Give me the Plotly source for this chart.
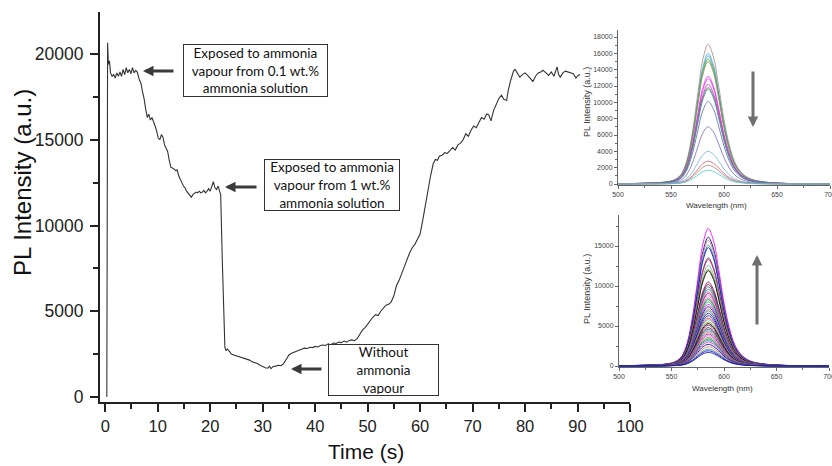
import plotly.graph_objects as go

# ---- time trace of PL intensity during ammonia exposure ----
time_s = [
    0.3, 0.45, 0.6, 0.8, 1.0, 1.3, 1.6, 1.9, 2.2, 2.5, 2.8, 3.1, 3.4, 3.7, 4.0, 4.3,
    4.6, 4.9, 5.2, 5.5, 5.8, 6.1, 6.5, 6.8, 7.1, 7.4, 7.7, 8.0, 8.3, 8.6, 8.9, 9.2,
    9.5, 9.8, 10.1, 10.4, 10.7, 11.0, 11.3, 11.6, 11.9, 12.2, 12.5, 12.8, 13.1, 13.4,
    13.7, 14.0, 14.3, 14.6, 14.9, 15.2, 15.5, 15.8, 16.1, 16.4, 16.7, 17.0, 17.3, 17.6,
    17.9, 18.2, 18.5, 18.8, 19.1, 19.4, 19.7, 20.0, 20.3, 20.6, 20.9, 21.2, 21.5, 21.8,
    22.0, 22.3, 22.6, 22.8, 23.0, 23.3, 23.7, 24.0, 24.5, 25.0, 25.5, 26.0, 26.5, 27.0,
    27.5, 28.0, 28.5, 29.0, 29.5, 30.0, 30.5, 31.0, 31.3, 31.6, 32.0, 32.5, 33.0, 33.5,
    34.0, 34.5, 35.0, 35.5, 36.0, 36.5, 37.0, 37.5, 38.0, 38.5, 39.0, 39.5, 40.0, 40.5,
    41.0, 41.5, 42.0, 42.5, 43.0, 43.5, 44.0, 44.5, 45.0, 45.5, 46.0, 46.5, 47.0, 47.5,
    48.0, 48.5, 49.0, 49.5, 50.0, 50.5, 51.0, 51.5, 52.0, 52.5, 53.0, 53.5, 54.0, 54.5,
    55.0, 55.5, 56.0, 56.5, 57.0, 57.5, 58.0, 58.5, 59.0, 59.5, 60.0, 60.5, 61.0, 61.5,
    62.0, 62.5, 62.9, 63.3, 63.7, 64.2, 64.7, 65.2, 65.7, 66.2, 66.7, 67.2, 67.7, 68.2,
    68.7, 69.2, 69.7, 70.2, 70.7, 71.2, 71.7, 72.2, 72.7, 73.1, 73.5, 74.0, 74.5, 75.0,
    75.5, 76.0, 76.5, 76.8, 77.3, 77.8, 78.1, 78.6, 79.0, 79.5, 80.0, 80.5, 81.0, 81.5,
    82.0, 82.5, 83.0, 83.4, 84.0, 84.5, 85.0, 85.5, 86.1, 86.4, 86.7, 87.2, 87.7, 88.2,
    88.7, 89.2, 89.7, 90.1, 90.5,
]
pl_intensity = [
    0, 20650, 19400, 19600, 18900, 18700, 18800, 18600, 18900, 18700, 18950, 18700, 19100, 18800, 19200, 18900,
    19100, 18850, 19200, 18900, 19050, 18950, 18500, 18300, 17800, 17400, 16800, 16300, 16500, 16150, 16300, 16100,
    15800, 15500, 15100, 15000, 15300, 15150, 14700, 14500, 14300, 13800, 13400, 13350, 13300, 13200,
    13250, 12900, 12650, 12500, 12300, 12200, 12000, 11900, 11750, 11650, 11800, 11900, 11950, 11900,
    12000, 11900, 11950, 12050, 11900, 12000, 12150, 12000, 12300, 12550, 12200, 12100, 12300, 11900,
    11800, 8000, 4500, 2900, 2700, 2800, 2650, 2500, 2450, 2400, 2350, 2300, 2250, 2200,
    2150, 2050, 2000, 1950, 1850, 1750, 1700, 1680, 1800, 1650, 1780, 1800, 1850, 1820,
    1950, 2200, 2450, 2550, 2620, 2680, 2750, 2800, 2850, 2830, 2900, 2880, 2950, 2920,
    3000, 3030, 3000, 3100, 3050, 3150, 3120, 3200, 3170, 3260, 3200, 3300, 3330, 3280,
    3400, 3650, 3900, 4050, 4250, 4500, 4650, 4800, 4750, 5000, 5200, 5350, 5400, 5550,
    5900, 6500, 6800, 7200, 7700, 8100, 8400, 8700, 8900, 9200, 9500, 10300, 11200, 12100,
    12900, 13600, 13850, 13800, 14050, 14100, 14250, 14200, 14400, 14550, 14400, 14700, 14800, 15000,
    15350, 15200, 15550, 15800, 15700, 16000, 16300, 16200, 16500, 16450, 16100, 16700, 17100, 17400,
    17600, 17350, 17300, 17900, 18500, 19000, 19100, 18850, 18650, 18800, 18900, 18750, 18600, 18400,
    18700, 18900, 18950, 19050, 18900, 18750, 18950, 18700, 19250, 18800, 18650, 18900, 19000, 18950,
    18900, 18850, 18600, 18750, 18800,
]

# ---- emission spectra (normalised band shape and peak heights) ----
wavelength_nm = [500, 510, 520, 530, 540, 545, 550, 555, 560, 565, 570, 575, 580, 585, 590,
                 595, 600, 605, 610, 615, 620, 625, 630, 640, 650, 660, 670, 680, 690, 700]
band_shape = [0.002, 0.003, 0.005, 0.007, 0.011, 0.015, 0.022, 0.038, 0.075, 0.17, 0.36, 0.63, 0.89, 1.0, 0.91,
              0.70, 0.46, 0.28, 0.16, 0.095, 0.058, 0.037, 0.025, 0.013, 0.007, 0.004, 0.003, 0.002, 0.002, 0.001]

peaks_quench = [17100, 16000, 15700, 15300, 15000, 13200, 12900, 12200, 11800, 11600,
                10100, 7000, 4000, 2800, 2300, 1700]
peaks_recover = [17200, 16100, 15700, 15100, 14800, 13500, 13300, 12600, 12100, 11900, 10500, 10200,
                 9900, 9600, 9300, 9100, 8800, 8500, 8300, 8000, 7700, 7400, 7100, 6900, 6600, 6300,
                 6000, 5800, 5500, 5300, 5100, 4800, 4600, 4400, 4200, 4000, 3800, 3600, 3400, 3200,
                 3000, 2700, 2400, 2100, 1900, 1700]

quench_colors = ["#b08a8a", "#5aa9d6", "#3fb0b0", "#4a9a4a", "#9a9a50", "#ff30ff", "#e040e0", "#d020d0",
                 "#5a8040", "#40a0a0", "#6670b0", "#7a72c0", "#70b8e0", "#d06080", "#b08878", "#50d0d8"]
recover_palette = ["#ff00ff", "#000080", "#c08080", "#2e8b57", "#0000ff", "#1f1f8f", "#ff2020", "#40c0d0",
                   "#808000", "#000000", "#800080", "#800000", "#008080", "#4169e1", "#ff8000", "#8000ff",
                   "#ff69b4", "#808080", "#008000", "#00a0a0"]

W, H = 832, 466
SANS = "Arial"


def px(x):
    return x / W


def py(y):
    return 1 - y / H


fig = go.Figure()

fig.add_trace(go.Scatter(x=time_s, y=pl_intensity, mode="lines",
                         line=dict(color="#333333", width=1.1), xaxis="x", yaxis="y"))

for p, c in zip(peaks_quench, quench_colors):
    fig.add_trace(go.Scatter(x=wavelength_nm, y=[p * v for v in band_shape], mode="lines",
                             line=dict(color=c, width=1, shape="spline"), opacity=0.85,
                             xaxis="x2", yaxis="y2"))

for i, p in enumerate(peaks_recover):
    c = recover_palette[i % len(recover_palette)]
    fig.add_trace(go.Scatter(x=wavelength_nm, y=[p * v for v in band_shape], mode="lines",
                             line=dict(color=c, width=1, shape="spline"), opacity=0.85,
                             xaxis="x3", yaxis="y3"))

main_axis = dict(showline=True, linecolor="#222222", linewidth=2, ticks="outside", ticklen=8,
                 tickwidth=1.5, tickcolor="#222222", showgrid=False, zeroline=False,
                 automargin=False, tickformat="d",
                 tickfont=dict(family=SANS, size=16.5, color="#222222"))
inset_axis = dict(showline=True, linecolor="#666666", linewidth=1, ticks="outside", ticklen=3,
                  tickwidth=1, tickcolor="#666666", showgrid=False, zeroline=False,
                  automargin=False, tickformat="d", ticklabeloverflow="allow",
                  tickfont=dict(family=SANS, size=7, color="#444444"))

fig.update_layout(
    width=W, height=H, margin=dict(l=0, r=0, t=0, b=0, autoexpand=False),
    paper_bgcolor="white", plot_bgcolor="white", showlegend=False,
    font=dict(family=SANS),
    xaxis=dict(main_axis, domain=[px(100), px(630)], range=[-1, 100], dtick=10, tick0=0,
               anchor="y", minor=dict(ticks="outside", ticklen=5, dtick=5, tickcolor="#222222")),
    yaxis=dict(main_axis, domain=[py(402), py(12)], range=[-292, 22449], dtick=5000, tick0=0,
               anchor="x", ticklabelstandoff=3,
               tickfont=dict(family=SANS, size=17.5, color="#222222"),
               minor=dict(ticks="outside", ticklen=5, dtick=2500, tickcolor="#222222")),
    xaxis2=dict(inset_axis, domain=[px(618), px(830)], range=[500, 700], dtick=50, anchor="y2",
                minor=dict(ticks="outside", ticklen=2, dtick=25, tickcolor="#666666")),
    yaxis2=dict(inset_axis, domain=[py(185), py(30)], range=[-120, 18860], dtick=2000, anchor="x2",
                minor=dict(ticks="outside", ticklen=2, dtick=1000, tickcolor="#666666")),
    xaxis3=dict(inset_axis, domain=[px(619), px(829)], range=[500, 700], dtick=50, anchor="y3",
                minor=dict(ticks="outside", ticklen=2, dtick=25, tickcolor="#666666")),
    yaxis3=dict(inset_axis, domain=[py(367), py(215)], range=[-125, 18875], dtick=5000, anchor="x3",
                minor=dict(ticks="outside", ticklen=2, dtick=2500, tickcolor="#666666")),
)

title_font = dict(family=SANS, color="#111111")
annotations = [
    dict(text="PL Intensity (a.u.)", x=px(22), y=py(183), textangle=-90,
         font=dict(title_font, size=24)),
    dict(text="Time (s)", x=px(366), y=py(451), font=dict(title_font, size=21)),
    dict(text="PL Intensity (a.u.)", x=px(587), y=py(102), textangle=-90,
         font=dict(title_font, size=9, color="#333333")),
    dict(text="Wavelength (nm)", x=px(716), y=py(205), font=dict(title_font, size=8, color="#333333")),
    dict(text="PL Intensity (a.u.)", x=px(587), y=py(289), textangle=-90,
         font=dict(title_font, size=9, color="#333333")),
    dict(text="Wavelength (nm)", x=px(722), y=py(388), font=dict(title_font, size=8, color="#333333")),
]
for a in annotations:
    a.update(xref="paper", yref="paper", xanchor="center", yanchor="middle", showarrow=False)
    fig.add_annotation(**a)

# labelled boxes
box_font = dict(family="Lato", size=13.5, color="#111111")
boxes = [
    ("Exposed to ammonia<br>vapour from 0.1 wt.%<br>ammonia solution", 183, 328, 44, 97),
    ("Exposed to ammonia<br>vapour from 1 wt.%<br>ammonia solution", 264, 400, 159, 211),
    ("Without<br>ammonia<br>vapour", 328, 439, 344, 396),
]
for txt, x0, x1, y0, y1 in boxes:
    fig.add_annotation(text=txt, xref="paper", yref="paper", x=px((x0 + x1) / 2), y=py((y0 + y1) / 2),
                       xanchor="center", yanchor="middle", showarrow=False, font=box_font,
                       width=x1 - x0 - 4, height=y1 - y0 - 4, borderpad=1, borderwidth=1,
                       bordercolor="#333333", bgcolor="white", align="center")

# pointer arrows (head position, tail offset in pixels)
arrows = [
    (143, 71, 32, 0, "#3a3a3a"),
    (225, 187, 33, 0, "#3a3a3a"),
    (291, 369, 32, 0, "#3a3a3a"),
    (753, 127, 0, -57, "#707070"),
    (757, 255, 0, 71, "#707070"),
]
for hx, hy, dx, dy, col in arrows:
    fig.add_annotation(text="", xref="paper", yref="paper", x=px(hx), y=py(hy), ax=dx, ay=dy,
                       showarrow=True, arrowhead=2, arrowsize=0.7, arrowwidth=3, arrowcolor=col,
                       standoff=0)

fig.write_html("out.html")
